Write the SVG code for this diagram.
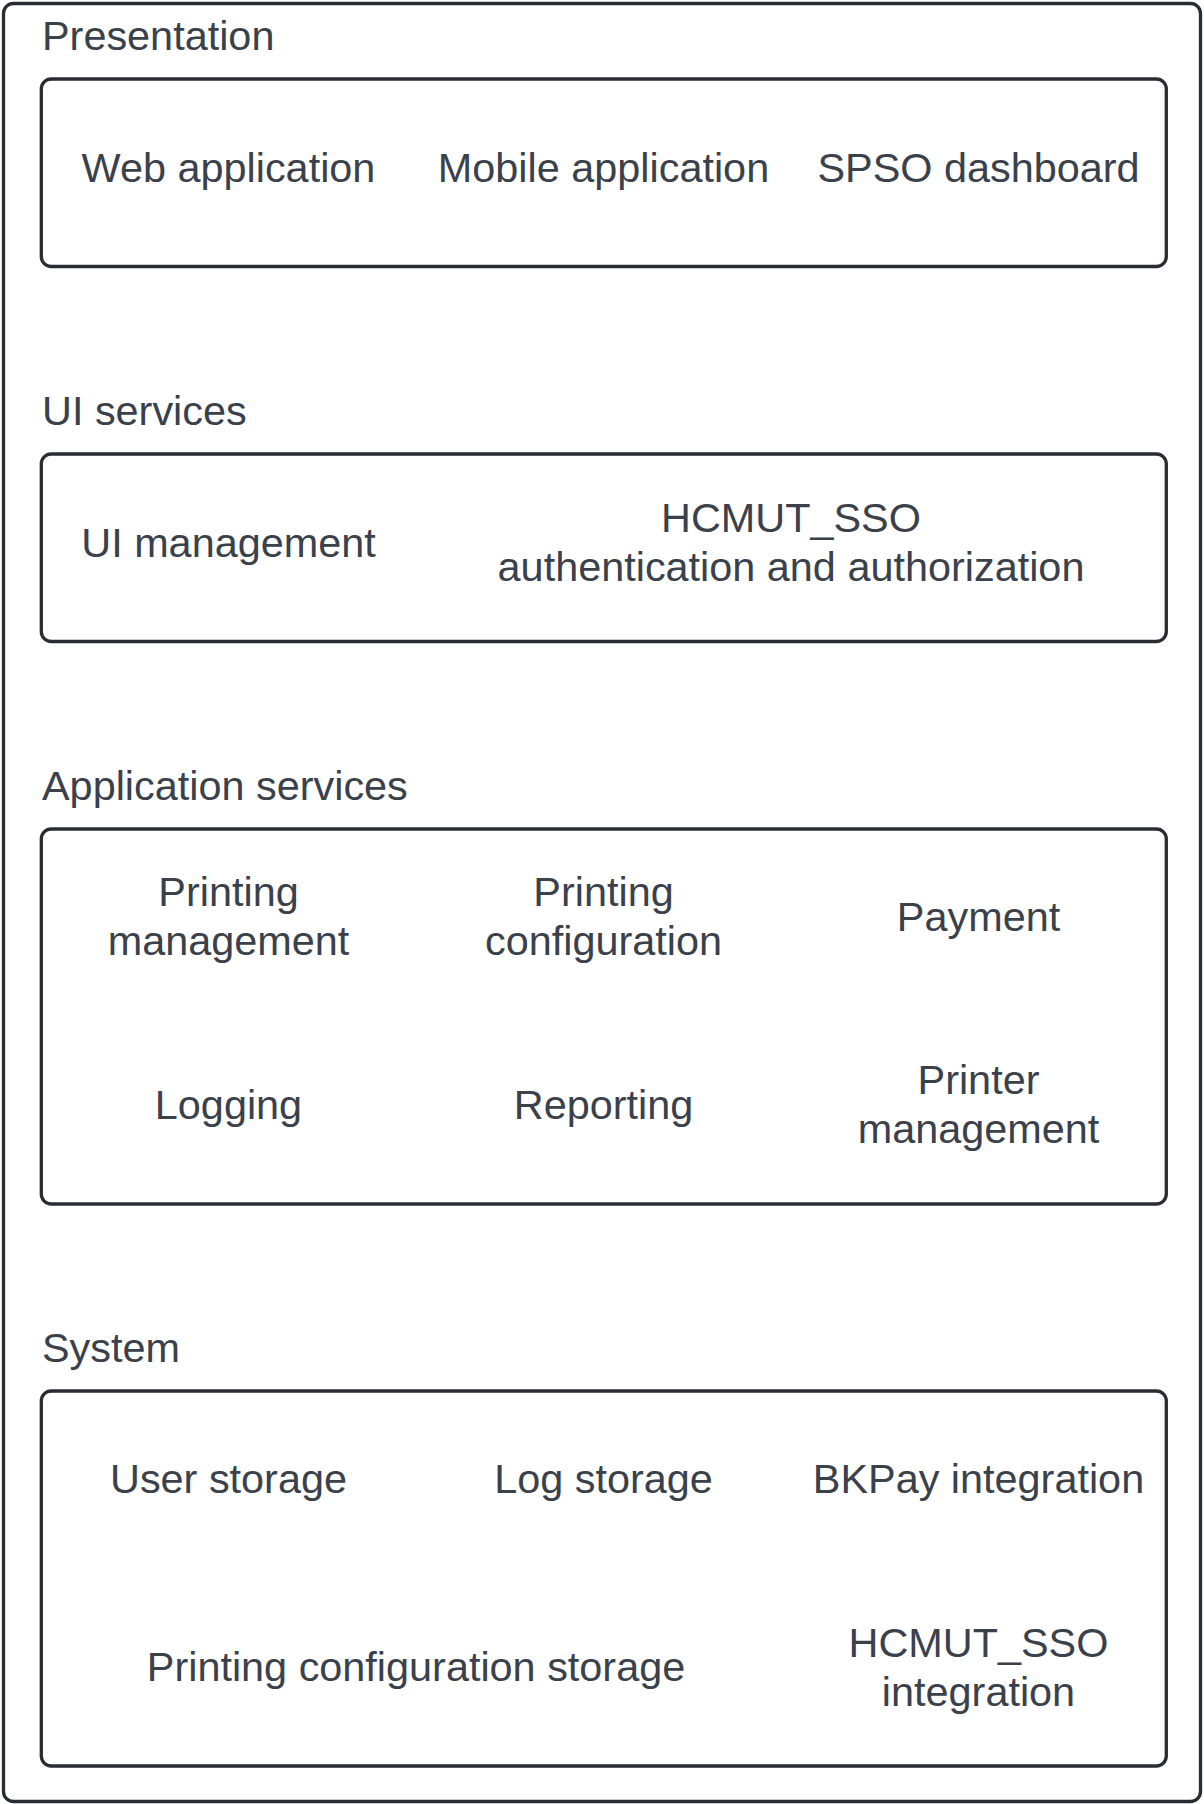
<svg xmlns="http://www.w3.org/2000/svg" width="1204" height="1804" viewBox="0 0 1204 1804">
<style>
.frame{fill:#ffffff;stroke:#282c33;stroke-width:3.3}
.box{fill:#ffffff;stroke:#282c33;stroke-width:3.3}
.lbl{font-family:"Liberation Sans",Arial,sans-serif;font-size:41.4px;fill:#3a414a}
.c{text-anchor:middle}
</style>
<rect width="1204" height="1804" fill="#ffffff"/>
<g id="outer">
<rect class="frame" x="3.5" y="3.5" width="1197" height="1798" rx="10"/>
</g>
<g id="connectors"></g>
<g id="presentation">
<text class="lbl" x="42" y="50">Presentation</text>
<rect class="box" x="41.3" y="79" width="1125" height="187.5" rx="10"/>
<text class="lbl c" x="228.5" y="181.5">Web application</text>
<text class="lbl c" x="603.5" y="181.5">Mobile application</text>
<text class="lbl c" x="978.5" y="181.5">SPSO dashboard</text>
</g>
<g id="ui-services">
<text class="lbl" x="42" y="424.5">UI services</text>
<rect class="box" x="41.3" y="454" width="1125" height="187.5" rx="10"/>
<text class="lbl c" x="228.5" y="556.5">UI management</text>
<text class="lbl c" x="791" y="531.5">HCMUT_SSO</text>
<text class="lbl c" x="791" y="580.5">authentication and authorization</text>
</g>
<g id="application-services">
<text class="lbl" x="42" y="799.5">Application services</text>
<rect class="box" x="41.3" y="829" width="1125" height="375" rx="10"/>
<text class="lbl c" x="228.5" y="905.5">Printing</text>
<text class="lbl c" x="228.5" y="954.5">management</text>
<text class="lbl c" x="603.5" y="905.5">Printing</text>
<text class="lbl c" x="603.5" y="954.5">configuration</text>
<text class="lbl c" x="978.5" y="931">Payment</text>
<text class="lbl c" x="228.5" y="1118.5">Logging</text>
<text class="lbl c" x="603.5" y="1118.5">Reporting</text>
<text class="lbl c" x="978.5" y="1093.5">Printer</text>
<text class="lbl c" x="978.5" y="1142.5">management</text>
</g>
<g id="system">
<text class="lbl" x="42" y="1362">System</text>
<rect class="box" x="41.3" y="1391" width="1125" height="375" rx="10"/>
<text class="lbl c" x="228.5" y="1493">User storage</text>
<text class="lbl c" x="603.5" y="1493">Log storage</text>
<text class="lbl c" x="978.5" y="1493">BKPay integration</text>
<text class="lbl c" x="416" y="1681">Printing configuration storage</text>
<text class="lbl c" x="978.5" y="1656.5">HCMUT_SSO</text>
<text class="lbl c" x="978.5" y="1705.5">integration</text>
</g>
</svg>
